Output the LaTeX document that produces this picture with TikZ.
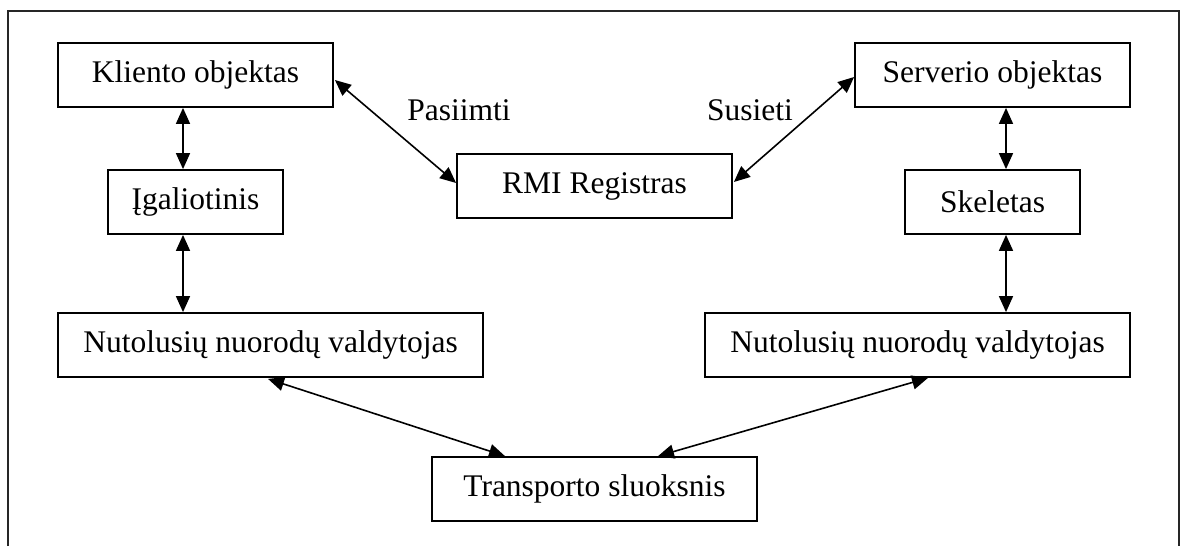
\documentclass[tikz,border=0pt]{standalone}
\usepackage{fontspec}
\setmainfont{Liberation Serif}
\usetikzlibrary{arrows.meta,calc}

\begin{document}
\begin{tikzpicture}[x=1pt,y=-1pt,
  box/.style={draw,line width=1.8pt,inner sep=0pt,minimum height=64pt,
    font=\fontsize{31.5}{36}\selectfont},
  link/.style={line width=1.6pt,{Triangle[length=16pt,width=14pt]}-{Triangle[length=16pt,width=14pt]}},
  lbl/.style={anchor=base,font=\fontsize{31.5}{36}\selectfont,inner sep=0pt}]
  \useasboundingbox (0,0) rectangle (1180,546);

  % open frame around the scheme
  \draw[line width=1.8pt,black!85] (8,546) -- (8,11) -- (1179,11) -- (1179,546);

  % client side
  \node[box,minimum width=275pt] (klient) at (195.5,75) {Kliento objektas};
  \node[box,minimum width=175pt] (proxy)  at (195.5,202) {Įgaliotinis};
  \node[box,minimum width=425pt] (nrefL)  at (270.5,345) {Nutolusių nuorodų valdytojas};

  % server side
  \node[box,minimum width=275pt] (server) at (992.5,75) {Serverio objektas};
  \node[box,minimum width=175pt] (skel)   at (992.5,202) {Skeletas};
  \node[box,minimum width=425pt] (nrefR)  at (917.5,345) {Nutolusių nuorodų valdytojas};

  % middle
  \node[box,minimum width=275pt] (rmi)   at (594.5,186) {RMI Registras};
  \node[box,minimum width=325pt] (trans) at (594.5,489) {Transporto sluoksnis};

  % vertical links
  \draw[link] ($(klient.south)+(-12.5,0)$) -- ($(proxy.north)+(-12.5,0)$);
  \draw[link] ($(proxy.south)+(-12.5,0)$) -- ($(nrefL.north)+(-87.5,0)$);
  \draw[link] ($(server.south)+(13.5,0)$) -- ($(skel.north)+(13.5,0)$);
  \draw[link] ($(skel.south)+(13.5,0)$) -- ($(nrefR.north)+(88.5,0)$);

  % registry links
  \draw[link] ($(klient.east)+(1,5)$) -- ($(rmi.west)+(0,-3)$);
  \draw[link] ($(server.west)+(0,2)$) -- ($(rmi.east)+(1,-4)$);
  \node[lbl] (take) at (459,120) {Pasiimti};
  \node[lbl] (bind) at (750,120) {Susieti};

  % transport links
  \draw[link] ($(nrefL.south)+(-2.5,1)$) -- ($(trans.north)+(-89.5,0)$);
  \draw[link] ($(nrefR.south)+(10.5,0)$) -- ($(trans.north)+(63.5,0)$);
\end{tikzpicture}
\end{document}
